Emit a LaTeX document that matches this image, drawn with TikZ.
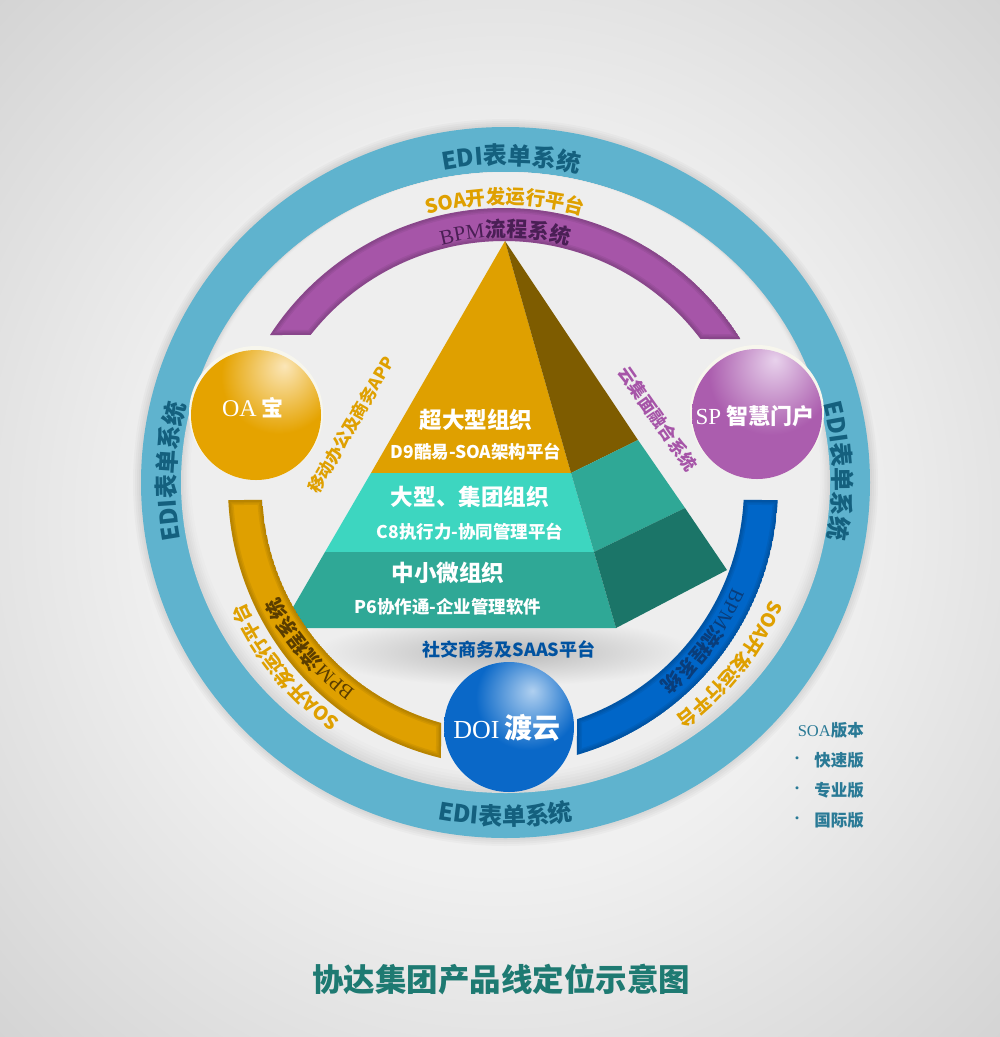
\documentclass[tikz,border=0pt]{standalone}
\usepackage{fontspec}
\usepackage{xcolor}
\setmainfont{Noto Sans CJK SC}[UprightFont=* Black]
\newfontfamily\latinserif{Liberation Serif}
\usetikzlibrary{decorations.text}
\definecolor{ringblue}{HTML}{5FB3CE}
\definecolor{edidark}{HTML}{14607E}
\definecolor{goldband}{HTML}{DFA000}
\definecolor{golddark}{HTML}{7E5C00}
\definecolor{goldtext}{HTML}{5A3D00}
\definecolor{purpleband}{HTML}{A655A8}
\definecolor{purpletext}{HTML}{4A1F55}
\definecolor{blueband}{HTML}{0066C8}
\definecolor{bluetext}{HTML}{0A3D7A}
\definecolor{tealLight}{HTML}{3DD6C0}
\definecolor{tealMid}{HTML}{2FA896}
\definecolor{tealDark}{HTML}{1B7568}
\definecolor{discgray}{HTML}{EEEEEE}
\definecolor{titleteal}{HTML}{1E7A72}
\definecolor{versionblue}{HTML}{2A7A96}
\definecolor{bgin}{HTML}{F0F0F0}
\definecolor{bgout}{HTML}{BEBEBE}
\definecolor{oagold}{HTML}{E5A300}
\definecolor{oalight}{HTML}{FBE6B8}
\definecolor{spviolet}{HTML}{AB5DAE}
\definecolor{splight}{HTML}{E8D2EC}
\definecolor{doiblue}{HTML}{0A68C8}
\definecolor{doilight}{HTML}{B0D0F0}
\pgfdeclareradialshading{bgshade}{\pgfpointorigin}{color(0bp)=(bgin); color(17bp)=(bgin); color(50bp)=(bgout)}
\pgfdeclareradialshading{oashade}{\pgfpoint{11bp}{19bp}}{color(0bp)=(oalight); color(22bp)=(oagold); color(100bp)=(oagold)}
\pgfdeclareradialshading{spshade}{\pgfpoint{7bp}{21bp}}{color(0bp)=(splight); color(24bp)=(spviolet); color(100bp)=(spviolet)}
\pgfdeclareradialshading{doishade}{\pgfpoint{9bp}{14bp}}{color(0bp)=(doilight); color(20bp)=(doiblue); color(100bp)=(doiblue)}
\newcommand{\fsz}[1]{\fontsize{#1}{#1}\selectfont}
% band with a soft inner edge
\newcommand{\softband}[2]{
    \begin{scope}
        \clip #2;
        \fill[#1] #2;
        \foreach \w in {10,7,4}
            \draw[black,opacity=0.06,line width=\w pt] #2;
    \end{scope}
}
\tikzset{
  x=1pt,y=1pt,
  edge glow/.style={fill=black,fill opacity=0.025},
  curve text/.style={decorate,decoration={text along path,text align=center,text={#1}}},
  pyr title/.style={text=white,font=\fsz{22.6}},
  pyr sub/.style={text=white,font=\fsz{17.5}},
  ball text/.style={text=white,font=\fsz{22}},
  version text/.style={text=versionblue,font=\fsz{16.5},anchor=east,inner sep=0pt}
}
\begin{document}
\begin{tikzpicture}
    \useasboundingbox (0,-1037) rectangle (1000,0);
    % Background
    \shade[shading=bgshade] (0,-1037) rectangle (1000,0);

    % Outer ring and disc
    \foreach \d in {8,6,4,2}
        \fill[edge glow] (505.5,-482.5) ellipse [x radius=364.5+\d, y radius=355.5+\d];
    \fill[ringblue] (505.5,-482.5) ellipse [x radius=364.5, y radius=355.5];
    \foreach \d/\g in {0/D8,3/DC,6/E0,9/E4,12/E8,15/EB}{
        \definecolor{discstep}{HTML}{\g\g\g}
        \fill[discstep] (505.5,-482.5+\d/2) ellipse [x radius=324.5-\d/2, y radius=310.5-\d/2];
    }
    \fill[discgray] (505.5,-482.5+9) ellipse [x radius=315, y radius=301];

    % Shadow under the pyramid
    \shade[inner color=black!28, outer color=discgray] (505,-652) ellipse [x radius=190, y radius=34];

    % Pyramid
    \coordinate (apex) at (505,-241);
    \coordinate (goldleft) at (371,-473);
    \coordinate (goldright) at (571,-473);
    \coordinate (goldback) at (638,-440);
    \coordinate (midleft) at (325,-552);
    \coordinate (midright) at (594,-552);
    \coordinate (midback) at (685,-508);
    \coordinate (baseleft) at (281,-628);
    \coordinate (baseright) at (616,-628);
    \coordinate (baseback) at (727,-570);
    \fill[goldband] (apex) -- (goldleft) -- (goldright) -- cycle;
    \fill[golddark] (apex) -- (goldright) -- (goldback) -- cycle;
    \fill[tealLight] (goldleft) -- (goldright) -- (midright) -- (midleft) -- cycle;
    \fill[tealMid] (goldright) -- (goldback) -- (midback) -- (midright) -- cycle;
    \fill[tealMid] (midleft) -- (midright) -- (baseright) -- (baseleft) -- cycle;
    \fill[tealDark] (midright) -- (midback) -- (baseback) -- (baseright) -- cycle;

    % Inner arcs
    \begin{scope}[shift={(504,-487)}]
        \softband{purpleband}{(147:279) arc[start angle=147,end angle=32,radius=279] -- (37:246) arc[start angle=37,end angle=141.8,radius=246] -- cycle}
    \end{scope}
    \begin{scope}[shift={(507,-487)}]
        \softband{goldband}{(182.7:279) arc[start angle=182.7,end angle=256.3,radius=279] -- (254.4:245) arc[start angle=254.4,end angle=183,radius=245] -- cycle}
    \end{scope}
    \begin{scope}[shift={(499,-487)}]
        \softband{blueband}{(-2.7:279) arc[start angle=-2.7,end angle=-73.8,radius=279] -- (-71.4:245) arc[start angle=-71.4,end angle=-3,radius=245] -- cycle}
    \end{scope}

    % Balls
    \fill[black!4!white!96!yellow] (256,-413) circle (67);
    \fill[black!4!white!96!yellow] (757,-412) circle (67);
    \shade[shading=oashade] (256,-415) circle (65);
    \shade[shading=spshade] (757,-414) circle (65);
    \shade[shading=doishade] (509,-727) circle (65);
    \node[ball text] (oaname) at (253,-408) {{\latinserif\fsz{24}OA} 宝};
    \node[ball text] (spname) at (755,-416) {{\latinserif\fsz{23}SP} 智慧门户};
    \node[ball text] (doiname) at (507,-728) {{\latinserif\fsz{26}DOI} \fsz{28}渡云};

    % Labels on the outer ring
    \path[curve text={|\fsz{24}\color{edidark}|EDI表单系统}] (505.5,-482.5) ++(114:328 and 318) arc[start angle=114,end angle=64,x radius=328,y radius=318];
    \path[curve text={|\fsz{24}\color{edidark}|EDI表单系统}] (505.5,-482.5) ++(204:330 and 318) arc[start angle=204,end angle=152,x radius=330,y radius=318];
    \path[curve text={|\fsz{24}\color{edidark}|EDI表单系统}] (505.5,-482.5) ++(28:328 and 318) arc[start angle=28,end angle=-24,x radius=328,y radius=318];
    \path[curve text={|\fsz{24}\color{edidark}|EDI表单系统}] (505.5,-482.5) ++(245:355 and 343) arc[start angle=245,end angle=295,x radius=355,y radius=343];

    % Labels on the inner arcs
    \path[curve text={|\fsz{19.5}\color{goldband}|SOA开发运行平台}] (505,-487) ++(125:283) arc[start angle=125,end angle=55,radius=283];
    \path[curve text={|\fsz{19}\color{goldband}|SOA开发运行平台}] (505,-487) ++(254.4:285) arc[start angle=254.4,end angle=184.4,radius=285];
    \path[curve text={|\fsz{19}\color{goldband}|SOA开发运行平台}] (508,-487) ++(-3.6:285) arc[start angle=-3.6,end angle=-73.6,radius=285];
    \path[curve text={|\fsz{21}\color{purpletext}\latinserif|BPM|||\fsz{21}\color{purpletext}|流程系统}] (505,-487) ++(125:250) arc[start angle=125,end angle=55,radius=250];
    \path[curve text={|\fsz{20}\color{goldtext}\latinserif|BPM|||\fsz{20}\color{goldtext}|流程系统}] (507,-487) ++(254.5:254) arc[start angle=254.5,end angle=184.5,radius=254];
    \path[curve text={|\fsz{20}\color{bluetext}\latinserif|BPM|||\fsz{20}\color{bluetext}|流程系统}] (499,-487) ++(-2:254) arc[start angle=-2,end angle=-72,radius=254];

    % Pyramid texts
    \node[pyr title] (largest) at (476,-420) {超大型组织};
    \node[pyr sub] (largestsub) at (476,-452) {D9酷易-SOA架构平台};
    \node[pyr title] (group) at (470,-497) {大型、集团组织};
    \node[pyr sub] (groupsub) at (470,-532) {C8执行力-协同管理平台};
    \node[pyr title] (small) at (448,-573) {中小微组织};
    \node[pyr sub] (smallsub) at (448,-607) {P6协作通-企业管理软件};

    % Side labels
    \node[text=goldband,font=\fsz{17},rotate=60] (mobile) at (351,-425) {移动办公及商务APP};
    \node[text=purpleband,font=\fsz{17.5},rotate=-55] (cloud) at (658,-419) {云集面融合系统};
    \node[text=blueband!80!black,font=\fsz{18}] (social) at (509,-649) {社交商务及SAAS平台};

    % Versions
    \node[version text] (soaver) at (864,-730) {{\latinserif SOA}版本};
    \node[version text] (quick) at (864,-760) {快速版};
    \node[version text] (prof) at (864,-790) {专业版};
    \node[version text] (intl) at (864,-820) {国际版};
    \node[text=versionblue,font=\fsz{11}] (dota) at (797,-760) {·};
    \node[text=versionblue,font=\fsz{11}] (dotb) at (797,-790) {·};
    \node[text=versionblue,font=\fsz{11}] (dotc) at (797,-820) {·};

    % Title
    \node[text=titleteal,font=\fsz{31.5}] (title) at (501,-979) {协达集团产品线定位示意图};
\end{tikzpicture}
\end{document}
